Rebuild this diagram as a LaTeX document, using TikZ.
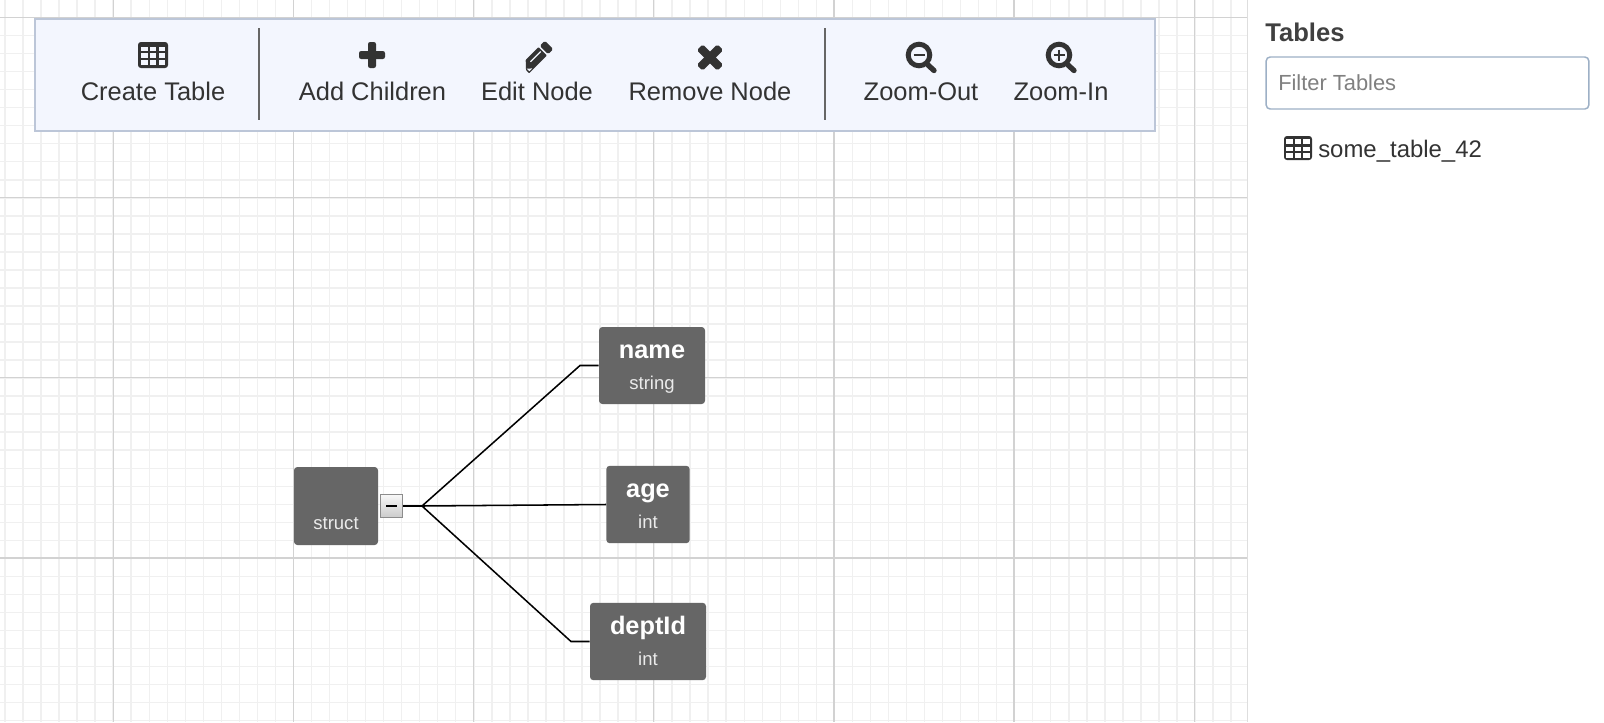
\documentclass[tikz,border=0pt]{standalone}
\usepackage{fontspec}
\setmainfont{Liberation Sans}
\definecolor{ink}{HTML}{333333}
\definecolor{minorgrid}{HTML}{F0F0F0}
\definecolor{majorgrid}{HTML}{D2D2D2}
\definecolor{barfill}{HTML}{F3F6FE}
\definecolor{barline}{HTML}{BCC6D8}
\definecolor{nodefill}{HTML}{666666}
\definecolor{inputline}{HTML}{9DB0C6}
\tikzset{
  x=0.75pt,y=-0.75pt,
  barlabel/.style={anchor=base,text=ink,font=\fontsize{19.1pt}{22pt}\selectfont,inner sep=0pt},
  fieldbox/.style={fill=nodefill,draw=none,rounded corners=2.5pt,inner sep=0pt},
  titletext/.style={text=white,font=\bfseries\fontsize{19pt}{22pt}\selectfont,inner sep=0pt,anchor=base},
  typetext/.style={text=white!92!black,font=\fontsize{13.9pt}{16pt}\selectfont,inner sep=0pt,anchor=base},
  link/.style={draw=black,line width=1.15pt},
  separator/.style={draw=nodefill,line width=1.1pt},
  iconline/.style={draw=ink,line cap=round},
}
\begin{document}
\begin{tikzpicture}
\useasboundingbox (0,0) rectangle (1604,722);
\fill[white] (0,0) rectangle (1604,722);
% grid
\begin{scope}
  \clip (0,0) rectangle (1247,722);
  \foreach \i in {0,...,69}{
    \draw[minorgrid,line width=1.1pt] ({5+18.03*\i},0) -- ({5+18.03*\i},722);}
  \foreach \i in {-1,...,40}{
    \draw[minorgrid,line width=1.1pt] (0,{17.5+18.03*\i}) -- (1247,{17.5+18.03*\i});}
  \foreach \i in {0,...,6}{
    \draw[majorgrid,line width=0.9pt] ({113.3+180.15*\i},0) -- ({113.3+180.15*\i},722);}
  \foreach \i in {0,...,3}{
    \draw[majorgrid,line width=0.9pt] (0,{17.5+180.15*\i}) -- (1247,{17.5+180.15*\i});}
\end{scope}
\draw[draw=black!13,line width=1.1pt] (1247.5,0) -- (1247.5,722);
% toolbar
\node[draw=barline,fill=barfill,line width=1.4pt,minimum width=840pt,minimum height=84pt,inner sep=0pt] (bar) at (595,75) {};
\draw[separator] (259,28) coordinate (sepa) -- (259,119.5);
\draw[separator] (825,28) coordinate (sepb) -- (825,119.5);
\node[barlabel] (create) at (153,100) {Create Table};
\node[barlabel] (addc) at (372.5,100) {Add Children};
\node[barlabel] (edit) at (537,100) {Edit Node};
\node[barlabel] (remove) at (710,100) {Remove Node};
\node[barlabel] (zout) at (921,100) {Zoom-Out};
\node[barlabel] (zin) at (1061,100) {Zoom-In};
% toolbar icons
\fill[ink,rounded corners=2.2pt] (138,42) rectangle (168,68);
\foreach \yy in {46.6,53.3,60}{
  \fill[barfill] (140.6,\yy) rectangle (147.6,\yy+4.6);
  \fill[barfill] (149.8,\yy) rectangle (156.4,\yy+4.6);
  \fill[barfill] (158.6,\yy) rectangle (165.4,\yy+4.6);}
\fill[ink,rounded corners=1.6pt] (368,42) rectangle (376,68);
\fill[ink,rounded corners=1.6pt] (359,51) rectangle (385,59);
\begin{scope}[shift={(537,57)},rotate=45]
  \fill[ink,rounded corners=0.5pt] (-17,6) -- (-17,1.5) -- (-10,-6) -- (8,-6) -- (8,6) -- cycle;
  \fill[ink,rounded corners=1.2pt] (9.8,-6) rectangle (17,6);
  \fill[barfill] (-8,-1.8) rectangle (6.5,-0.7);
  \fill[barfill] (-15.5,4.6) -- (-11.6,4.6) -- (-15.5,0.9) -- cycle;
\end{scope}
\begin{scope}[shift={(710,57.5)},rotate=45]
  \fill[ink,rounded corners=1.4pt] (-14.5,-4.2) rectangle (14.5,4.2);
  \fill[ink,rounded corners=1.4pt] (-4.2,-14.5) rectangle (4.2,14.5);
\end{scope}
\draw[ink,line width=3.7pt] (919,55) circle (10.8);
\draw[iconline,line width=4pt] (928,65) -- (934,70.5);
\draw[ink,line width=1.5pt] (913.5,55) -- (924.5,55);
\draw[ink,line width=3.7pt] (1059,55) circle (10.8);
\draw[iconline,line width=4pt] (1068,65) -- (1074,70.5);
\draw[ink,line width=1.5pt] (1053.5,55) -- (1064.5,55) (1059,49.5) -- (1059,60.5);
% tree nodes
\node[fieldbox,minimum width=63pt,minimum height=58.5pt] (struct) at (336,506) {};
\node[typetext] (structtype) at (336,529) {struct};
\node[fieldbox,minimum width=79.5pt,minimum height=57.75pt] (name) at (652,365.5) {};
\node[titletext] (nametitle) at (652,358) {name};
\node[typetext] (nametype) at (652,389) {string};
\node[fieldbox,minimum width=62.5pt,minimum height=58pt] (age) at (648,504.5) {};
\node[titletext] (agetitle) at (648,497) {age};
\node[typetext] (agetype) at (648,528) {int};
\node[fieldbox,minimum width=87pt,minimum height=58pt] (dept) at (648,641.5) {};
\node[titletext] (depttitle) at (648,634) {deptId};
\node[typetext] (depttype) at (648,665) {int};
% collapse button
\node[draw=black!45,line width=0.9pt,top color=black!3,bottom color=black!20,minimum width=16pt,minimum height=17pt,inner sep=0pt] (toggle) at (391.5,506) {};
\draw[black,line width=1.3pt] (386,506) coordinate (minusa) -- (397,506) coordinate (minusb);
% connectors
\coordinate (fork) at (422,506);
\coordinate (benda) at (580,365.5);
\coordinate (bendc) at (571,641.5);
\draw[link,line width=1.9pt] (toggle.east) -- (fork);
\draw[link] (fork) -- (benda) -- (name.west);
\draw[link] (fork) -- (age.west);
\draw[link] (fork) -- (bendc) -- (dept.west);
% sidebar
\node[anchor=base west,inner sep=0pt,text=black!75,font=\bfseries\fontsize{19.2pt}{22pt}\selectfont] (tablestitle) at (1265,41) {Tables};
\node[draw=inputline,fill=white,line width=1.1pt,rounded corners=3pt,minimum width=242pt,minimum height=39pt,inner sep=0pt] (filter) at (1427.5,83) {};
\node[anchor=base west,inner sep=0pt,text=black!50,font=\fontsize{16.4pt}{19pt}\selectfont] (filtertext) at (1278,90) {Filter Tables};
\fill[ink,rounded corners=2.2pt] (1284,136) rectangle (1312,160);
\foreach \yy in {139,146.6,153.4}{
  \fill[white] (1286.3,\yy) rectangle (1293.3,\yy+4.8);
  \fill[white] (1295,\yy) rectangle (1301.2,\yy+4.8);
  \fill[white] (1302.9,\yy) rectangle (1309.7,\yy+4.8);}
\node[anchor=base west,inner sep=0pt,text=ink,font=\fontsize{17.95pt}{21pt}\selectfont] (tablename) at (1318,157) {some\_table\_42};
\end{tikzpicture}
\end{document}
